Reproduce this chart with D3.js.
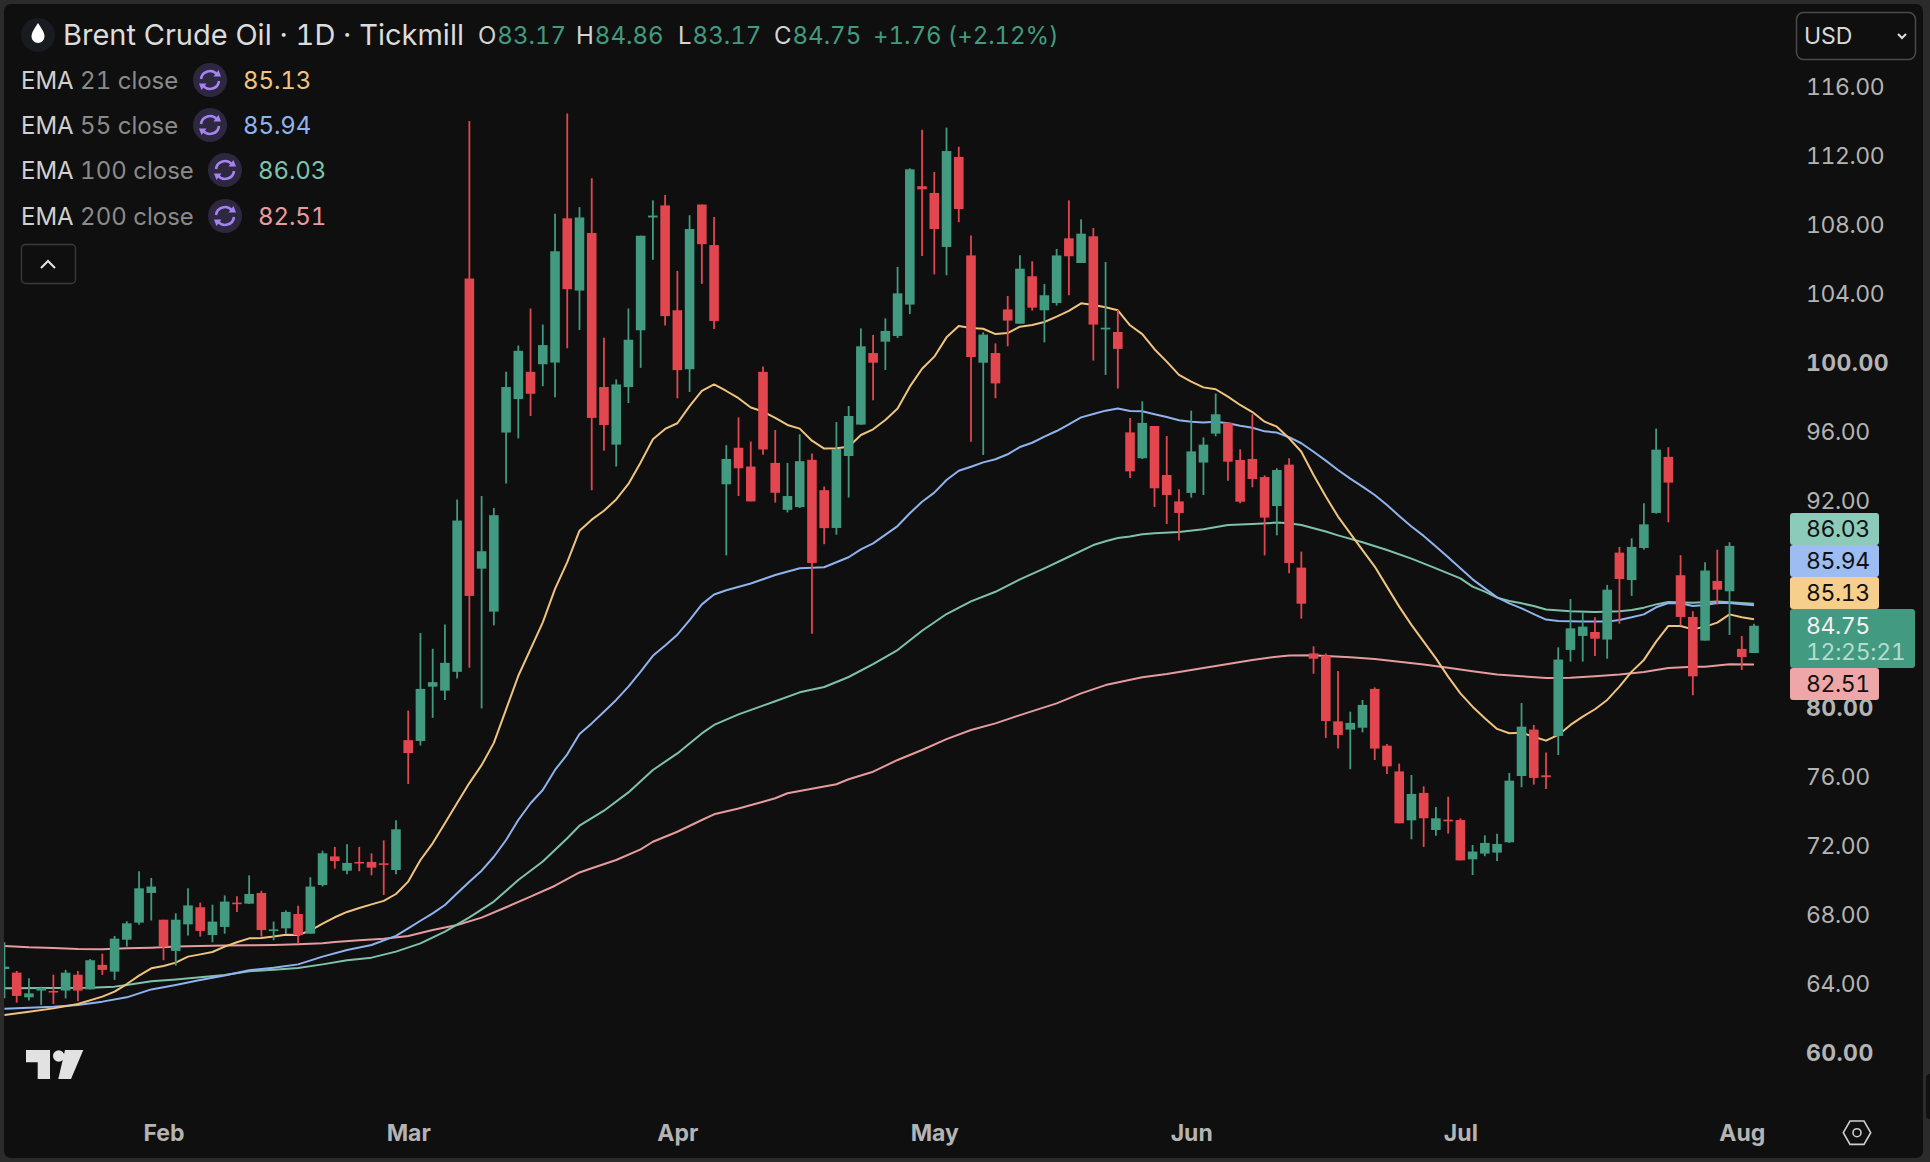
<!DOCTYPE html>
<html>
<head>
<meta charset="utf-8">
<script src="https://cdn.jsdelivr.net/npm/d3@7"></script>
<style>
  html, body { margin: 0; padding: 0; background: #2b2b2b; overflow: hidden; }
  svg { display: block; font-family: Inter, Roboto, sans-serif; font-variant-numeric: tabular-nums; }
</style>
</head>
<body>
<script>
// bar number of the first entry is -1 (the candle cut by the left edge)
var opens = [64.85,64.64,63.21,63.60,63.58,63.60,64.52,63.67,65.09,64.70,66.55,67.54,69.26,67.71,65.90,67.44,68.43,66.82,67.29,68.70,68.64,69.26,67.06,67.21,68.04,66.90,69.72,71.38,70.55,71.06,71.06,70.98,70.59,
  78.12,78.07,81.22,80.99,82.08,104.88,88.06,85.57,95.95,97.89,99.47,99.91,100.01,108.37,104.18,107.52,98.59,95.25,98.59,101.88,108.42,109.12,103.04,99.62,109.17,106.82,92.95,95.07,93.98,99.47,94.19,91.47,91.63,94.37,92.61,
  90.42,94.59,96.41,100.56,101.22,101.55,103.37,110.23,109.84,106.71,111.93,106.22,100.00,100.56,103.09,102.26,105.01,103.04,103.46,107.21,105.78,107.33,101.93,101.78,95.96,94.46,96.33,93.49,91.96,92.45,94.21,95.89,96.52,94.36,94.42,93.37,91.69,
  94.09,88.12,83.15,83.02,79.21,78.73,78.84,81.09,77.80,76.31,73.47,75.06,72.91,73.51,73.49,71.21,71.54,71.60,72.20,76.04,78.73,76.08,78.36,83.35,84.16,84.39,83.95,88.99,87.40,89.26,91.29,94.54,87.68,85.26,83.89,87.35,86.75,83.41,83.17];
var highs = [66.40,64.74,64.31,63.83,64.52,64.80,64.74,65.43,65.74,66.77,67.62,70.52,70.13,67.71,68.08,69.53,68.70,68.58,69.12,69.07,70.28,69.39,67.60,68.25,68.52,70.17,71.71,71.93,72.08,71.93,71.56,72.31,73.47,
  79.83,84.33,83.42,84.82,92.07,114.01,92.27,91.58,99.47,101.00,103.14,102.21,108.63,114.45,109.02,110.70,101.44,99.03,103.14,107.36,109.41,109.72,105.32,108.55,109.17,108.45,95.22,96.83,95.43,99.78,96.10,94.19,95.85,94.73,92.82,
  96.56,97.49,101.99,101.61,102.57,105.55,111.27,113.51,111.06,113.63,112.52,107.37,101.76,101.12,103.87,106.23,105.88,104.56,106.59,109.41,108.31,107.81,105.84,103.06,96.79,97.76,96.33,95.75,92.66,97.22,95.67,98.21,96.54,94.98,97.01,93.47,93.88,
  94.46,89.05,83.56,83.15,82.13,79.77,80.45,81.18,77.90,76.76,76.10,75.44,74.25,74.84,73.59,72.04,72.60,72.70,76.22,80.27,79.00,77.41,83.50,86.30,85.51,85.24,87.12,89.32,89.82,91.85,96.18,95.10,88.84,85.59,88.43,89.16,89.59,84.16,84.86];
var lows = [63.15,62.90,63.02,62.77,62.82,63.15,62.98,63.67,64.51,64.22,66.15,67.42,67.66,65.36,65.05,66.79,66.73,66.40,66.90,68.16,68.62,66.73,66.52,66.88,66.30,66.90,69.63,70.67,70.34,70.52,70.28,69.14,70.34,
  75.58,77.81,79.41,80.45,81.69,82.31,79.96,84.77,93.00,95.61,96.91,98.64,97.99,100.84,101.90,92.61,94.89,93.98,97.66,99.70,105.96,102.16,97.94,98.30,104.57,101.95,88.83,92.27,91.96,94.66,91.89,91.32,91.58,84.28,89.48,
  90.03,92.18,96.41,97.82,99.58,101.43,102.82,106.19,105.12,105.07,108.14,95.42,94.65,97.94,100.95,102.26,103.02,101.18,103.31,103.91,105.78,100.12,99.29,98.50,93.32,94.42,91.64,90.65,89.70,92.18,92.33,95.73,93.16,91.85,92.78,88.83,89.99,
  87.79,85.16,81.97,78.25,77.63,76.43,78.57,76.97,76.16,73.30,72.37,71.93,72.58,72.70,71.15,70.30,71.39,71.11,72.16,75.39,75.54,75.29,77.26,82.67,82.67,83.00,82.84,84.87,86.48,89.16,91.25,90.75,84.76,80.72,83.89,85.98,84.22,82.19,83.17];
var closes = [64.99,63.29,63.44,63.75,63.50,64.64,63.60,65.36,64.80,66.61,67.50,69.53,69.63,66.15,67.71,68.54,67.06,67.60,68.76,68.62,69.20,67.11,67.15,68.16,66.82,69.63,71.56,71.11,71.00,70.98,70.73,70.90,72.95,
  77.37,81.09,81.48,82.60,90.85,86.48,89.07,91.16,98.59,100.69,98.20,101.02,106.46,104.26,108.42,96.80,96.39,98.74,101.33,107.36,108.53,102.70,99.57,107.75,106.87,102.42,94.42,93.88,91.96,94.97,92.46,92.27,94.29,88.39,90.41,
  95.00,96.91,100.95,100.00,101.84,104.02,111.21,110.05,107.75,112.27,108.91,100.33,101.63,98.80,102.44,105.45,103.19,103.91,106.22,106.17,107.48,102.21,102.03,100.80,93.70,96.51,92.72,92.33,91.29,94.86,95.25,97.01,94.26,91.94,93.26,91.02,93.78,
  88.39,86.03,82.84,79.23,78.42,79.12,80.16,77.63,76.60,73.30,75.00,73.59,73.59,73.41,71.15,71.66,72.16,72.10,75.77,78.90,75.93,75.97,82.79,84.60,84.70,84.00,86.84,87.46,89.32,90.63,94.96,93.05,85.26,81.82,87.95,86.84,89.38,82.94,84.75];

var ema21Bars = [-1,1,3,5,7,8,9,10,11,12,13,14,15,16,17,18,19,20,21,22,23,24,25,26,27,28,29,30,31,32,33,34,35,36,37,38,39,40,41,42,43,44,45,46,47,48,49,50,51,52,53,54,55,56,57,58,59,60,61,62,63,64,65,66,67,68,69,70,71,72,73,74,75,76,77,78,79,80,81,82,83,84,85,86,87,88,89,90,91,92,93,94,95,96,97,98,99,100,101,102,103,104,105,106,107,108,109,110,111,112,113,114,115,116,117,118,119,120,121,122,123,124,125,126,127,128,129,130,131,132,133,134,135,136,137,138,139,140,141,142];
var ema21 = [62.19,62.38,62.57,62.82,63.25,63.54,63.98,64.47,64.89,65.03,65.22,65.57,65.70,65.84,66.15,66.40,66.63,66.65,66.73,66.84,66.82,67.08,67.48,67.85,68.16,68.39,68.60,68.80,69.20,69.92,71.17,72.14,73.30,74.47,75.63,76.67,77.96,79.90,81.85,83.40,84.95,86.89,88.44,90.26,90.90,91.42,92.07,92.97,94.22,95.56,96.16,96.49,97.48,98.36,98.74,98.36,97.94,97.40,97.17,96.80,96.39,96.18,95.48,95.02,95.04,95.13,95.81,96.14,96.68,97.34,98.61,99.65,100.35,101.47,102.13,102.01,101.97,101.66,101.72,102.09,102.19,102.36,102.67,103.00,103.44,103.35,103.21,103.04,102.17,101.66,100.78,100.06,99.29,98.90,98.57,98.46,98.03,97.55,97.14,96.58,96.29,95.62,94.84,93.49,92.24,91.08,90.11,89.14,88.18,87.02,85.86,84.80,83.83,82.86,81.80,80.83,80.06,79.39,78.77,78.52,78.55,78.32,78.09,78.42,79.00,79.48,79.91,80.45,81.22,82.09,82.77,83.83,84.74,84.74,84.54,84.70,84.93,85.41,85.24,85.13];

var ema55Bars = [-1,1,3,5,7,9,11,13,15,17,19,21,23,25,27,29,31,32,33,34,35,36,37,38,39,40,41,42,43,44,45,46,47,48,49,50,51,52,53,54,55,56,57,58,60,62,64,66,68,69,70,72,73,74,75,76,77,78,79,80,81,82,83,84,85,86,87,88,89,90,91,92,93,94,95,96,97,98,99,100,101,102,103,104,105,106,107,108,109,110,111,112,113,114,115,116,117,118,119,120,121,122,123,124,125,126,128,130,131,132,133,134,135,136,137,138,139,140,141,142];
var ema55 = [62.55,62.61,62.67,62.77,62.96,63.21,63.67,63.93,64.22,64.47,64.78,64.93,65.12,65.57,65.95,66.24,66.77,67.21,67.65,68.08,68.56,69.24,69.91,70.55,71.36,72.33,73.49,74.46,75.23,76.39,77.30,78.48,79.09,79.77,80.45,81.22,82.09,83.01,83.60,84.23,85.08,85.99,86.56,86.81,87.20,87.69,88.08,88.14,88.72,89.18,89.53,90.53,91.27,91.94,92.47,93.20,93.74,93.97,94.22,94.40,94.69,95.11,95.36,95.71,96.04,96.43,96.83,97.03,97.22,97.34,97.20,97.18,97.01,96.85,96.66,96.58,96.54,96.58,96.49,96.35,96.23,96.02,95.95,95.68,95.33,94.84,94.32,93.78,93.28,92.82,92.33,91.75,91.12,90.50,89.96,89.34,88.72,88.08,87.44,86.92,86.40,86.05,85.76,85.43,85.11,85.03,84.99,84.99,85.09,85.24,85.41,85.82,86.07,86.05,85.90,85.96,86.07,86.07,85.99,85.94];

var ema100Bars = [-1,6,8,9,11,13,15,17,19,21,23,25,27,29,31,33,35,37,39,41,43,45,46,48,50,52,54,56,57,59,61,62,64,66,68,70,72,74,76,78,80,82,84,86,88,89,90,91,92,93,95,97,99,101,103,104,105,106,107,108,110,112,114,116,118,119,120,121,122,123,124,125,127,129,131,132,133,134,135,137,139,140,142];
var ema100 = [63.73,63.77,63.83,63.93,64.14,64.25,64.37,64.51,64.72,64.81,64.91,65.12,65.36,65.51,65.86,66.34,67.02,67.85,68.76,70.01,71.08,72.43,73.16,74.03,75.09,76.39,77.35,78.51,79.00,79.61,80.12,80.37,80.89,81.20,81.78,82.53,83.34,84.46,85.43,86.16,86.72,87.44,88.08,88.75,89.43,89.65,89.84,89.93,90.05,90.11,90.19,90.34,90.59,90.65,90.73,90.69,90.59,90.40,90.21,89.99,89.59,89.14,88.64,88.08,87.50,87.02,86.73,86.38,86.19,86.05,85.90,85.69,85.59,85.55,85.59,85.67,85.80,85.99,86.13,86.09,86.15,86.11,86.03];

var ema200Bars = [-1,1,3,5,7,9,11,13,15,17,19,21,23,25,26,28,30,32,34,36,38,40,42,44,46,47,49,51,52,54,56,57,59,61,62,63,65,67,68,70,72,74,76,78,80,82,85,87,89,92,94,96,99,101,103,104,106,107,109,111,113,115,117,119,121,123,125,127,129,131,133,135,137,138,140,142];
var ema200 = [66.19,66.11,66.07,66.01,65.99,66.05,66.09,66.15,66.19,66.21,66.23,66.24,66.28,66.34,66.42,66.52,66.61,66.77,67.11,67.40,67.83,68.43,69.05,69.68,70.45,70.69,71.17,71.79,72.23,72.81,73.49,73.82,74.16,74.55,74.75,75.04,75.30,75.56,75.85,76.29,76.97,77.55,78.18,78.71,79.09,79.57,80.25,80.83,81.31,81.76,81.95,82.18,82.53,82.76,82.96,83.02,83.04,83.00,82.92,82.83,82.67,82.50,82.32,82.11,81.92,81.82,81.72,81.74,81.82,81.92,82.07,82.30,82.38,82.38,82.52,82.51];

var yTicks = [60,64,68,72,76,80,84,88,92,96,100,104,108,112,116];
var yBold = [60,80,100];
var monthLabels = ['Feb','Mar','Apr','May','Jun','Jul','Aug'];
var monthBars = [12,32,54,75,96,118,141];

var emaNames = ['EMA', 'EMA', 'EMA', 'EMA'];
var emaParams = ['21 close', '55 close', '100 close', '200 close'];
var emaValues = ['85.13', '85.94', '86.03', '82.51'];
var emaColors = ['#f0c47e', '#8fb3ee', '#7fc2ac', '#e69c9e'];

var upColor = '#429a80', downColor = '#e2464f';
var W = 1930, H = 1162;

var x = d3.scaleLinear().domain([0, 142]).range([16.7, 1754]);
var y = d3.scaleLinear().domain([60, 116]).range([1052.7, 86.7]);

var svg = d3.select('body').append('svg').attr('width', W).attr('height', H);

svg.append('rect').attr('width', W).attr('height', H).attr('fill', '#2b2b2b');
svg.append('rect').attr('x', 4).attr('y', 4).attr('width', 1919).attr('height', 1154).attr('rx', 7).attr('fill', '#0f0f0f');
svg.append('rect').attr('x', 1926).attr('y', 1074).attr('width', 8).attr('height', 45).attr('rx', 4).attr('fill', '#111');

svg.append('clipPath').attr('id', 'pane').append('rect').attr('x', 4).attr('y', 4).attr('width', 1780).attr('height', 1154);
var pane = svg.append('g').attr('clip-path', 'url(#pane)');

// EMA lines go under the candles
function drawEma(bars, values, color) {
  var line = d3.line().x(function(d, i) { return x(bars[i]); }).y(function(d) { return y(d); });
  pane.append('path').attr('d', line(values)).attr('fill', 'none').attr('stroke', color).attr('stroke-width', 2).attr('stroke-linejoin', 'round');
}
drawEma(ema200Bars, ema200, emaColors[3]);
drawEma(ema100Bars, ema100, emaColors[2]);
drawEma(ema55Bars, ema55, emaColors[1]);
drawEma(ema21Bars, ema21, emaColors[0]);

var candle = pane.selectAll('g.candle').data(opens).enter().append('g').attr('class', 'candle');
function col(i) { return closes[i] >= opens[i] ? upColor : downColor; }
candle.append('line')
  .attr('x1', function(d, i) { return x(i - 1); })
  .attr('x2', function(d, i) { return x(i - 1); })
  .attr('y1', function(d, i) { return y(highs[i]); })
  .attr('y2', function(d, i) { return y(lows[i]); })
  .attr('stroke', function(d, i) { return col(i); })
  .attr('stroke-width', 1.8);
candle.append('rect')
  .attr('x', function(d, i) { return x(i - 1) - 4.8; })
  .attr('width', 9.6)
  .attr('y', function(d, i) { return y(Math.max(opens[i], closes[i])); })
  .attr('height', function(d, i) { return Math.max(1.6, Math.abs(y(opens[i]) - y(closes[i]))); })
  .attr('fill', function(d, i) { return col(i); });

// price axis
var yAxis = svg.append('g').attr('transform', 'translate(1806,0)')
  .call(d3.axisRight(y).tickValues(yTicks).tickFormat(d3.format('.2f')).tickSize(0).tickPadding(0));
yAxis.select('.domain').remove();
yAxis.selectAll('text')
  .attr('fill', '#b4b4b4')
  .attr('font-family', 'Inter, Roboto, sans-serif')
  .attr('font-size', 23)
  .attr('letter-spacing', function(d) { return yBold.indexOf(d) >= 0 ? 0.4 : -0.4; })
  .attr('font-weight', function(d) { return yBold.indexOf(d) >= 0 ? 700 : 400; });

// time axis
var xAxis = svg.append('g').attr('transform', 'translate(0,1125)')
  .call(d3.axisBottom(x).tickValues(monthBars).tickFormat(function(d, i) { return monthLabels[i]; }).tickSize(0).tickPadding(0));
xAxis.select('.domain').remove();
xAxis.selectAll('text')
  .attr('fill', '#b4b4b4')
  .attr('font-family', 'Inter, Roboto, sans-serif')
  .attr('font-size', 23)
  .attr('font-weight', 700);

// last value tags
var tagValues = ['86.03', '85.94', '85.13', '82.51'];
var tagTops = [513, 545, 577, 668];
var tagFills = ['#8ccbb9', '#9dbcf2', '#f7cf8c', '#eea6a8'];
tagValues.forEach(function(t, i) {
  svg.append('rect').attr('x', 1790).attr('y', tagTops[i]).attr('width', 89).attr('height', 32).attr('rx', 3).attr('fill', tagFills[i]);
  svg.append('text').attr('x', 1806).attr('y', tagTops[i] + 24).attr('font-size', 23).attr('letter-spacing', -0.4).attr('fill', '#111').text(t);
});
svg.append('rect').attr('x', 1790).attr('y', 609).attr('width', 125).attr('height', 59).attr('rx', 3).attr('fill', upColor);
svg.append('text').attr('x', 1806).attr('y', 634).attr('font-size', 23).attr('letter-spacing', -0.4).attr('fill', '#f2f2f2').text('84.75');
svg.append('text').attr('x', 1806).attr('y', 660).attr('font-size', 23).attr('letter-spacing', -0.3).attr('fill', '#b4dccf').text('12:25:21');

// header
var head = svg.append('g');
head.append('circle').attr('cx', 38).attr('cy', 35).attr('r', 17).attr('fill', '#181b1f');
head.append('path').attr('d', 'M38 23 C41 28 44.5 32 44.5 36.5 A6.5 6.5 0 0 1 31.5 36.5 C31.5 32 35 28 38 23 Z').attr('fill', '#fff');
head.append('text').attr('x', 63).attr('y', 45).attr('font-size', 29).attr('fill', '#dcdcdc').text('Brent Crude Oil · 1D · Tickmill');

var ohlcLetters = ['O', 'H', 'L', 'C'];
var ohlcValues = ['83.17', '84.86', '83.17', '84.75'];
var ohlcX = [478, 576, 678, 774];
ohlcLetters.forEach(function(l, i) {
  var t = head.append('text').attr('x', ohlcX[i]).attr('y', 44).attr('font-size', 24);
  t.append('tspan').attr('fill', '#d4d4d4').text(l);
  t.append('tspan').attr('fill', upColor).attr('dx', 1).attr('letter-spacing', 0).text(ohlcValues[i]);
});
head.append('text').attr('x', 873).attr('y', 44).attr('font-size', 24).attr('letter-spacing', -0.05).attr('fill', upColor).text('+1.76 (+2.12%)');

// legend rows
var rowY = [80, 125, 170, 216];
var iconX = [210, 210, 225, 225];
var valueX = [243, 243, 258, 258];
emaParams.forEach(function(p, i) {
  var t = svg.append('text').attr('x', 21).attr('y', rowY[i] + 9).attr('font-size', 24);
  t.append('tspan').attr('fill', '#d0d0d0').text(emaNames[i] + ' ');
  t.append('tspan').attr('fill', '#8a8a8a').text(p);
  var g = svg.append('g').attr('transform', 'translate(' + iconX[i] + ',' + rowY[i] + ')');
  g.append('circle').attr('r', 17).attr('fill', '#2e2740');
  g.append('path').attr('d', 'M-9 -1 A9 9 0 0 1 7 -5.5 M9 1 A9 9 0 0 1 -7 5.5').attr('fill', 'none').attr('stroke', '#a583f0').attr('stroke-width', 2.6);
  g.append('path').attr('d', 'M3.5 -3.5 L11 -3.5 L8.5 -10 Z M-3.5 3.5 L-11 3.5 L-8.5 10 Z').attr('fill', '#a583f0');
  svg.append('text').attr('x', valueX[i]).attr('y', rowY[i] + 9).attr('font-size', 24).attr('letter-spacing', -0.1).attr('fill', emaColors[i]).text(emaValues[i]);
});

// collapse button
svg.append('rect').attr('x', 21.5).attr('y', 244.5).attr('width', 54).attr('height', 39).attr('rx', 4).attr('fill', 'none').attr('stroke', '#3a3a3a').attr('stroke-width', 1.4);
svg.append('path').attr('d', 'M41 268 L48 261 L55 268').attr('fill', 'none').attr('stroke', '#e4e4e4').attr('stroke-width', 2);

// currency box
svg.append('rect').attr('x', 1796.5).attr('y', 12.5).attr('width', 119).attr('height', 47).attr('rx', 7).attr('fill', 'none').attr('stroke', '#4a4a4a').attr('stroke-width', 1.5);
svg.append('text').attr('x', 1804).attr('y', 44).attr('font-size', 23).attr('fill', '#d8d8d8').text('USD');
svg.append('path').attr('d', 'M1898 34 L1902 38 L1906 34').attr('fill', 'none').attr('stroke', '#e0e0e0').attr('stroke-width', 2);

// TradingView mark
var logo = svg.append('g').attr('fill', '#e2e2e2');
logo.append('path').attr('d', 'M26 1050 H50 V1079 H37.7 V1062.3 H26 Z');
logo.append('circle').attr('cx', 58.7).attr('cy', 1056).attr('r', 5.7);
logo.append('path').attr('d', 'M65 1050 H83.3 L71 1079 H58.3 Z');

// settings hexagon
svg.append('path').attr('d', 'M1843.3 1132.7 L1850 1121 H1864 L1870.7 1132.7 L1864 1144.4 H1850 Z').attr('fill', 'none').attr('stroke', '#cfcfcf').attr('stroke-width', 1.6);
svg.append('circle').attr('cx', 1857).attr('cy', 1132.7).attr('r', 4).attr('fill', 'none').attr('stroke', '#cfcfcf').attr('stroke-width', 1.6);
</script>
</body>
</html>
